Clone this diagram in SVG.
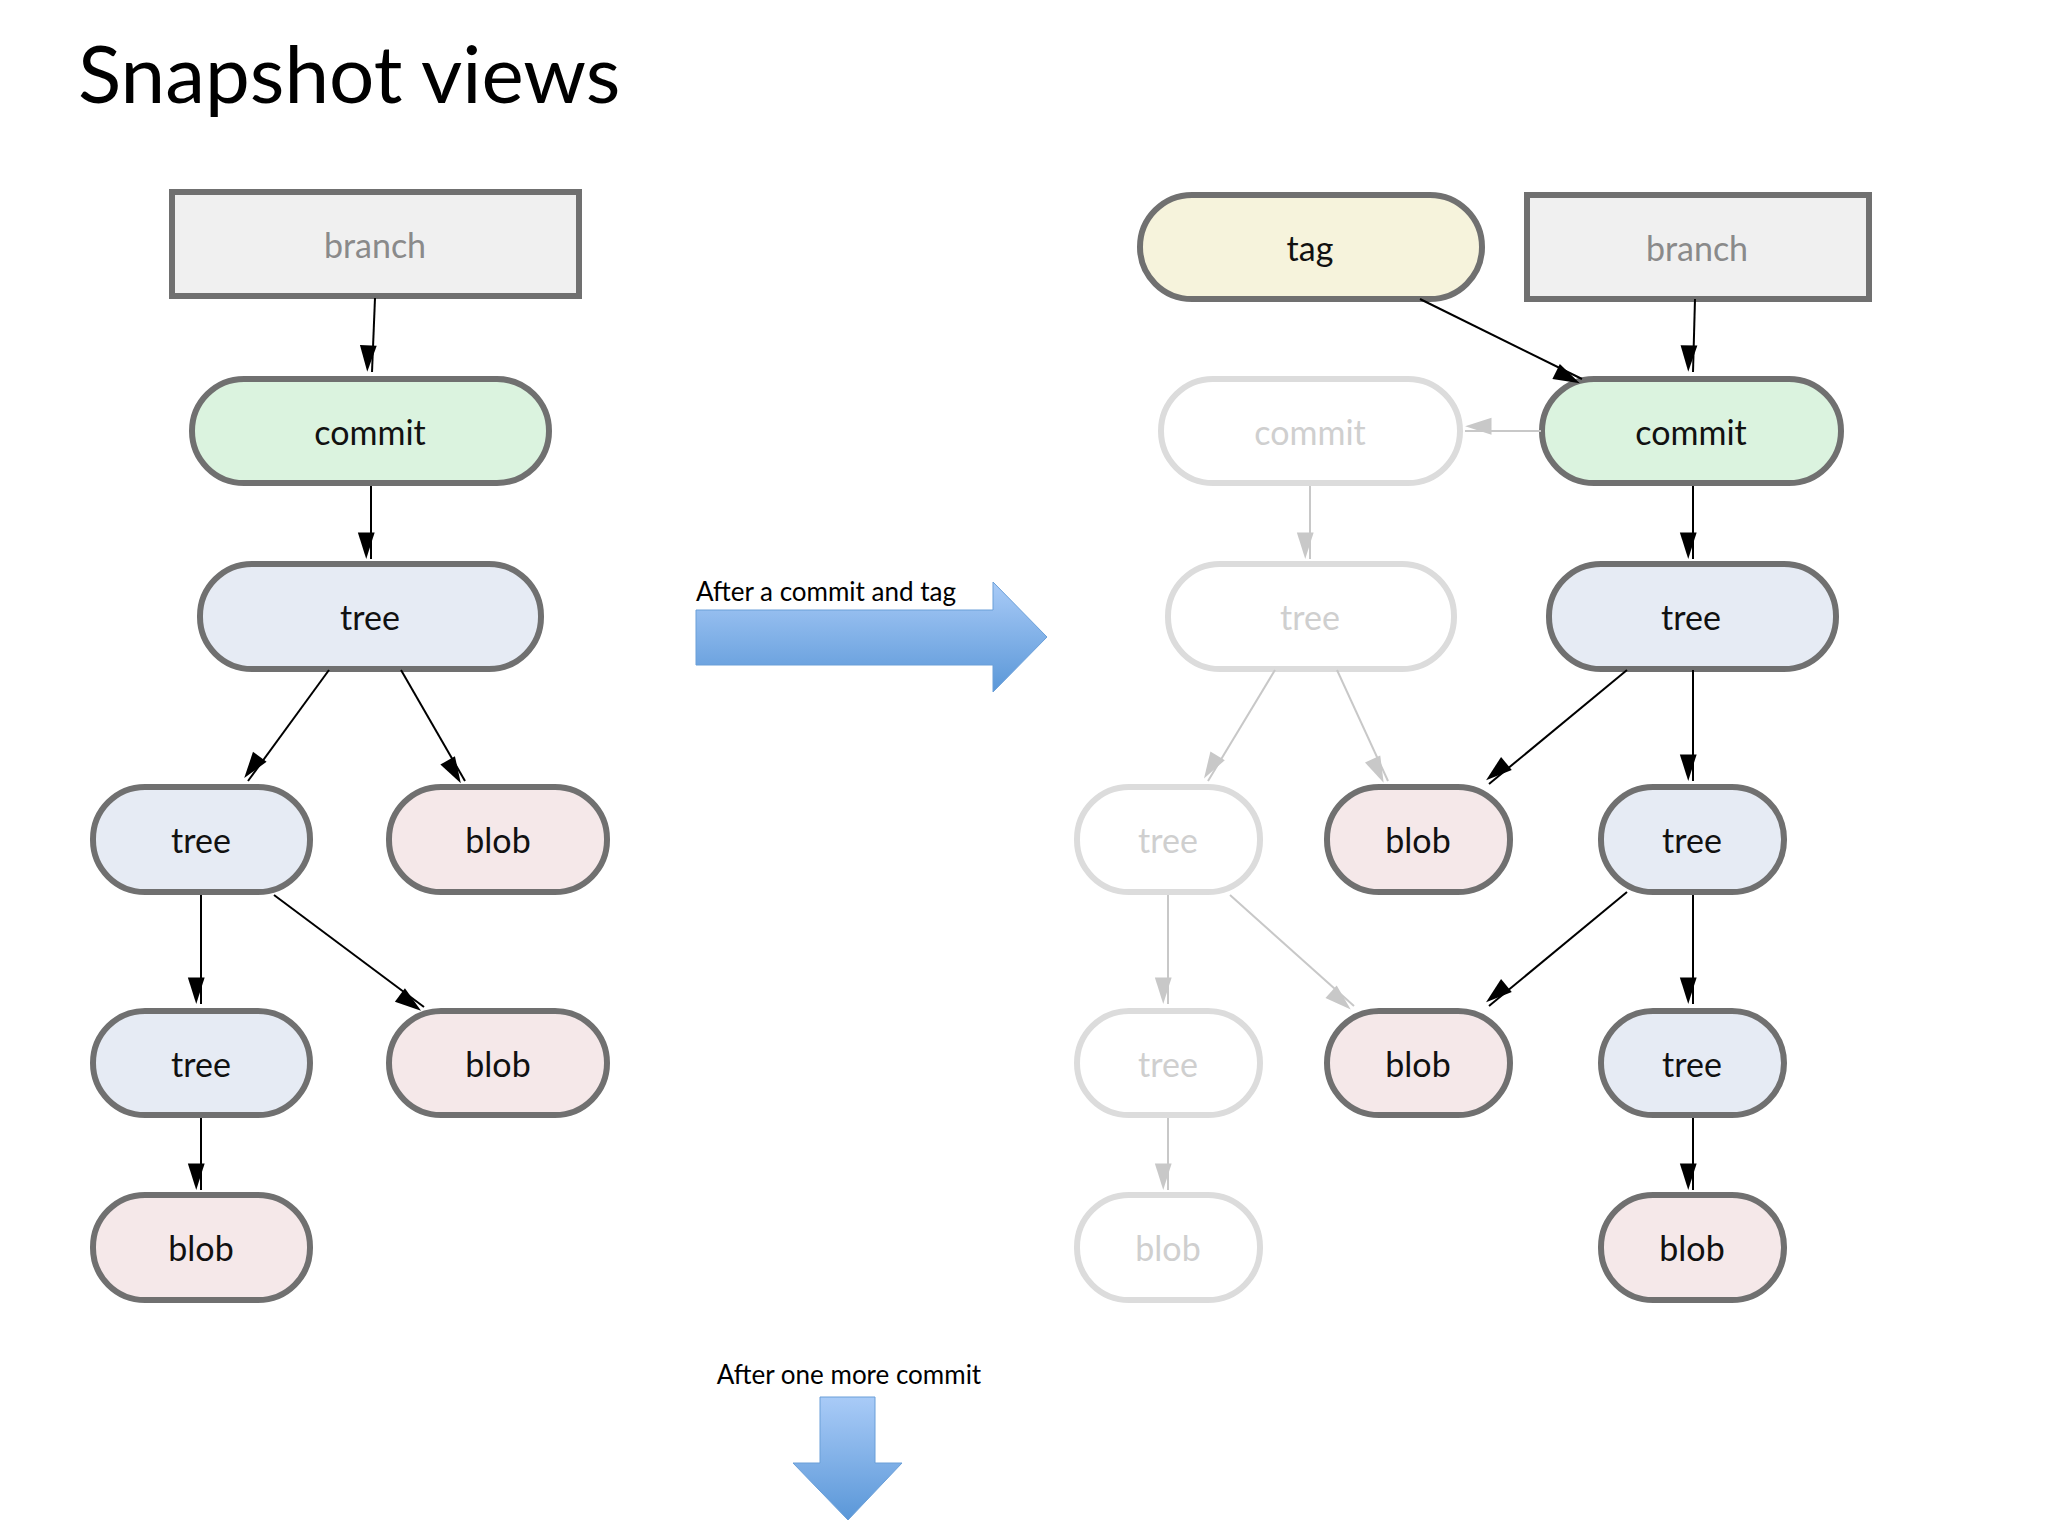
<svg xmlns="http://www.w3.org/2000/svg" width="2048" height="1536" viewBox="0 0 2048 1536">
<style>
text{font-family:Lato,"Open Sans",sans-serif;text-anchor:middle;dominant-baseline:central}
.n{stroke:#707070;stroke-width:6}
.f{fill:#fff;stroke:#dcdcdc;stroke-width:6}
.t{font-size:34px;fill:#111}
.ft{font-size:34px;fill:#cfcfcf}
.bt{font-size:34px;fill:#8a8a8a}
.c{stroke:#000;stroke-width:2;fill:none;marker-end:url(#a)}
.fc{stroke:#c8c8c8;stroke-width:2;fill:none;marker-end:url(#fa)}
.lbl{font-size:26px;fill:#000;text-anchor:start;dominant-baseline:alphabetic}
</style>
<defs>
<marker id="a" viewBox="0 0 10 10" refX="10" refY="5" markerWidth="12" markerHeight="12" markerUnits="userSpaceOnUse" orient="auto" style="overflow:visible"><path d="M0,0 L10,5 L0,10Z" transform="scale(2.2 1.4) translate(-5.5 1.4)" fill="#000"/></marker>
<marker id="fa" viewBox="0 0 10 10" refX="10" refY="5" markerWidth="12" markerHeight="12" markerUnits="userSpaceOnUse" orient="auto" style="overflow:visible"><path d="M0,0 L10,5 L0,10Z" transform="scale(2.2 1.4) translate(-5.5 1.4)" fill="#c8c8c8"/></marker>
<linearGradient id="g" x1="0" y1="0" x2="0" y2="1"><stop offset="0" stop-color="#a9cbf7"/><stop offset="1" stop-color="#5a97d8"/></linearGradient>
<linearGradient id="g2" x1="0" y1="0" x2="0" y2="1"><stop offset="0" stop-color="#a9cbf7"/><stop offset="1" stop-color="#5a97d8"/></linearGradient>
</defs>
<rect width="2048" height="1536" fill="#fff"/>
<text x="78" y="72" style="font-size:80px;text-anchor:start;fill:#000">Snapshot views</text>

<g id="L_branch"><rect x="172" y="192" width="407" height="104" fill="#f0f0f0" class="n"/><text x="375" y="244" class="bt">branch</text></g>
<g id="L_commit"><rect x="192" y="379" width="357" height="104" rx="52" fill="#dbf3df" class="n"/><text x="370" y="431" class="t">commit</text></g>
<g id="L_tree1"><rect x="200" y="564" width="341" height="105" rx="52" fill="#e6ebf4" class="n"/><text x="370" y="616" class="t">tree</text></g>
<g id="L_tree2"><rect x="93" y="787" width="217" height="105" rx="52" fill="#e6ebf4" class="n"/><text x="201" y="839" class="t">tree</text></g>
<g id="L_blob1"><rect x="389" y="787" width="218" height="105" rx="52" fill="#f5e8e9" class="n"/><text x="498" y="839" class="t">blob</text></g>
<g id="L_tree3"><rect x="93" y="1011" width="217" height="104" rx="52" fill="#e6ebf4" class="n"/><text x="201" y="1063" class="t">tree</text></g>
<g id="L_blob2"><rect x="389" y="1011" width="218" height="104" rx="52" fill="#f5e8e9" class="n"/><text x="498" y="1063" class="t">blob</text></g>
<g id="L_blob3"><rect x="93" y="1195" width="217" height="105" rx="52" fill="#f5e8e9" class="n"/><text x="201" y="1247" class="t">blob</text></g>

<g id="R_tag"><rect x="1140" y="195" width="342" height="104" rx="52" fill="#f6f3dc" class="n"/><text x="1310" y="247" class="t">tag</text></g>
<g id="R_branch"><rect x="1527" y="195" width="342" height="104" fill="#f0f0f0" class="n"/><text x="1697" y="247" class="bt">branch</text></g>
<g id="R_oldcommit"><rect x="1161" y="379" width="299" height="104" rx="52" class="f"/><text x="1310" y="431" class="ft">commit</text></g>
<g id="R_commit"><rect x="1542" y="379" width="299" height="104" rx="52" fill="#dbf3df" class="n"/><text x="1691" y="431" class="t">commit</text></g>
<g id="R_oldtree1"><rect x="1168" y="564" width="286" height="105" rx="52" class="f"/><text x="1310" y="616" class="ft">tree</text></g>
<g id="R_tree1"><rect x="1549" y="564" width="287" height="105" rx="52" fill="#e6ebf4" class="n"/><text x="1691" y="616" class="t">tree</text></g>
<g id="R_oldtree2"><rect x="1077" y="787" width="183" height="105" rx="52" class="f"/><text x="1168" y="839" class="ft">tree</text></g>
<g id="R_blob1"><rect x="1327" y="787" width="183" height="105" rx="52" fill="#f5e8e9" class="n"/><text x="1418" y="839" class="t">blob</text></g>
<g id="R_tree2"><rect x="1601" y="787" width="183" height="105" rx="52" fill="#e6ebf4" class="n"/><text x="1692" y="839" class="t">tree</text></g>
<g id="R_oldtree3"><rect x="1077" y="1011" width="183" height="104" rx="52" class="f"/><text x="1168" y="1063" class="ft">tree</text></g>
<g id="R_blob2"><rect x="1327" y="1011" width="183" height="104" rx="52" fill="#f5e8e9" class="n"/><text x="1418" y="1063" class="t">blob</text></g>
<g id="R_tree3"><rect x="1601" y="1011" width="183" height="104" rx="52" fill="#e6ebf4" class="n"/><text x="1692" y="1063" class="t">tree</text></g>
<g id="R_oldblob"><rect x="1077" y="1195" width="183" height="105" rx="52" class="f"/><text x="1168" y="1247" class="ft">blob</text></g>
<g id="R_blob3"><rect x="1601" y="1195" width="183" height="105" rx="52" fill="#f5e8e9" class="n"/><text x="1692" y="1247" class="t">blob</text></g>

<g id="bigarrows">
<path d="M696,610 L993,610 L993,582 L1047,637 L993,692 L993,665 L696,665Z" fill="url(#g)" stroke="#6a9fd8" stroke-width="1"/>
<text x="696" y="601" class="lbl">After a commit and tag</text>
<path d="M820,1397 L875,1397 L875,1463 L902,1463 L848,1520 L793,1463 L820,1463Z" fill="url(#g2)" stroke="#6a9fd8" stroke-width="1"/>
<text x="849" y="1384" class="lbl" style="text-anchor:middle">After one more commit</text>
</g>

<g id="connectors">
<line x1="375" y1="298" x2="372" y2="372" class="c"/>
<line x1="371" y1="486" x2="371" y2="559" class="c"/>
<line x1="329" y1="670" x2="248" y2="781" class="c"/>
<line x1="401" y1="670" x2="465" y2="781" class="c"/>
<line x1="201" y1="895" x2="201" y2="1004" class="c"/>
<line x1="274" y1="895" x2="424" y2="1007" class="c"/>
<line x1="201" y1="1118" x2="201" y2="1190" class="c"/>
<line x1="1420" y1="299" x2="1582" y2="379" class="c"/>
<line x1="1695" y1="299" x2="1693" y2="372" class="c"/>
<line x1="1541" y1="431" x2="1465" y2="431" class="fc"/>
<line x1="1693" y1="486" x2="1693" y2="559" class="c"/>
<line x1="1310" y1="486" x2="1310" y2="559" class="fc"/>
<line x1="1627" y1="670" x2="1489" y2="784" class="c"/>
<line x1="1693" y1="670" x2="1693" y2="781" class="c"/>
<line x1="1275" y1="670" x2="1208" y2="781" class="fc"/>
<line x1="1337" y1="670" x2="1388" y2="781" class="fc"/>
<line x1="1627" y1="892" x2="1489" y2="1006" class="c"/>
<line x1="1693" y1="895" x2="1693" y2="1004" class="c"/>
<line x1="1168" y1="895" x2="1168" y2="1004" class="fc"/>
<line x1="1230" y1="895" x2="1354" y2="1006" class="fc"/>
<line x1="1693" y1="1118" x2="1693" y2="1190" class="c"/>
<line x1="1168" y1="1118" x2="1168" y2="1190" class="fc"/>
</g>
</svg>
